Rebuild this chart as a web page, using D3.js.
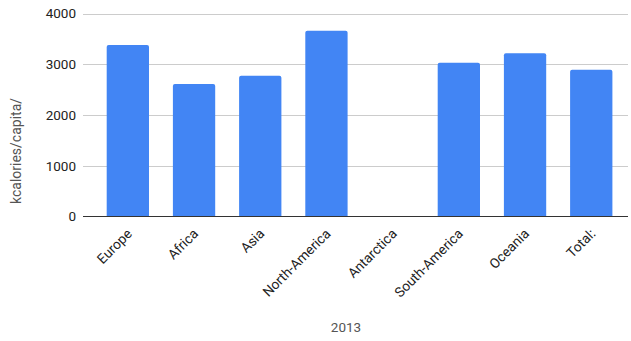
<!DOCTYPE html>
<html><head><meta charset="utf-8">
<script src="https://cdn.jsdelivr.net/npm/d3@7"></script>
<style>body{margin:0;background:#fff;font-family:Roboto,Arial,sans-serif;}</style>
</head><body>
<svg id="c" width="631" height="341"></svg>
<script>
const categories = ["Europe","Africa","Asia","North-America","Antarctica","South-America","Oceania","Total:"];
const values = [3381, 2613, 2776, 3663, 0, 3033, 3218, 2895];
const yTicks = [0, 1000, 2000, 3000, 4000];
const xTitle = "2013";
const yTitle = "kcalories/capita/";

const svg = d3.select("#c");
const plotL = 83, plotR = 628, plotTop = 13.6, plotBottom = 216.6;
const x = d3.scaleBand().domain(categories).range([94.75, 624.35]).paddingInner(0.361).paddingOuter(0.1805);
const y = d3.scaleLinear().domain([0, 4000]).range([plotBottom, plotTop]);

// gridlines
svg.append("g").selectAll("line").data(yTicks.filter(d => d > 0)).join("line")
  .attr("x1", plotL).attr("x2", plotR)
  .attr("y1", d => Math.round(y(d)) + 0.5).attr("y2", d => Math.round(y(d)) + 0.5)
  .attr("stroke", "#cccccc").attr("stroke-width", 1);

// y tick labels
svg.append("g").selectAll("text").data(yTicks).join("text")
  .attr("x", 76).attr("y", d => y(d)).attr("dy", "0.35em")
  .attr("text-anchor", "end").attr("font-size", 13.5).attr("fill", "#222")
  .text(d => d);

// bars
const r = 2;
svg.append("g").selectAll("path").data(categories.map((c, i) => ({c, v: values[i]})).filter(d => d.v > 0)).join("path")
  .attr("fill", "#4285F4")
  .attr("d", d => {
    const x0 = x(d.c), w = x.bandwidth(), y0 = y(d.v), y1 = y(0);
    return `M${x0},${y1}V${y0 + r}Q${x0},${y0} ${x0 + r},${y0}H${x0 + w - r}Q${x0 + w},${y0} ${x0 + w},${y0 + r}V${y1}Z`;
  });

// baseline
svg.append("line").attr("x1", plotL).attr("x2", plotR)
  .attr("y1", 216.5).attr("y2", 216.5).attr("stroke", "#333").attr("stroke-width", 1);

// x labels
svg.append("g").selectAll("text").data(categories).join("text")
  .attr("transform", d => `translate(${x(d) + x.bandwidth() / 2 + 5},${y(0) + 18}) rotate(-45)`)
  .attr("text-anchor", "end").attr("font-size", 13.7).attr("fill", "#222")
  .text(d => d);

// titles
svg.append("text").attr("x", 346).attr("y", 332)
  .attr("text-anchor", "middle").attr("font-size", 13.5).attr("fill", "#555").text(xTitle);
svg.append("text").attr("transform", "translate(21,151) rotate(-90)")
  .attr("text-anchor", "middle").attr("font-size", 14).attr("fill", "#555").text(yTitle);
</script>
</body></html>
